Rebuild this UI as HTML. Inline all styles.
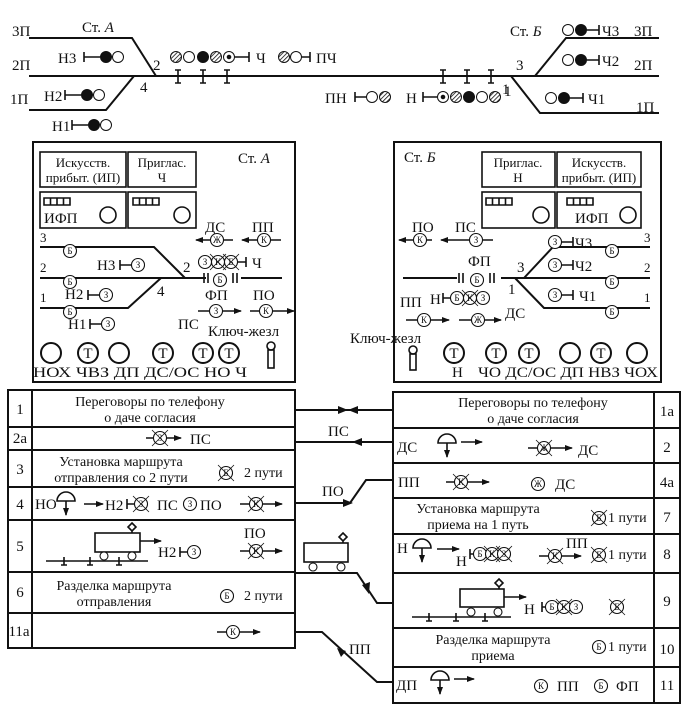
<!DOCTYPE html>
<html><head><meta charset="utf-8"><style>
html,body{margin:0;padding:0;background:#fff}
svg{display:block}
text{font-family:"Liberation Serif","Times New Roman",serif;font-size:15px;fill:#111}
.m{font-size:13px}
.tb{font-size:14px}
.s{font-size:9px;text-anchor:middle}
.c{fill:#fff;stroke:#111;stroke-width:1.1}
.x{stroke:#111;stroke-width:0.8}
.l{stroke:#111;stroke-width:2;fill:none}
.t{stroke:#111;stroke-width:1.6;fill:none}
.ctr{text-anchor:middle}
</style></head><body>
<svg width="688" height="715" viewBox="0 0 688 715" xmlns="http://www.w3.org/2000/svg">
<defs>
<pattern id="h" width="3" height="3" patternUnits="userSpaceOnUse" patternTransform="rotate(45)"><rect width="3" height="3" fill="#fff"/><line x1="0" y1="0" x2="0" y2="3" stroke="#111" stroke-width="1.6"/></pattern>
<marker id="a" markerWidth="8" markerHeight="6" refX="7" refY="3" orient="auto" markerUnits="userSpaceOnUse"><path d="M0,0 L8,3 L0,6 Z" fill="#111"/></marker>
</defs>

<text x="12" y="36">3П</text><text x="12" y="70">2П</text><text x="10" y="104">1П</text>
<text x="82" y="32">Ст. <tspan font-style="italic">А</tspan></text>
<path class="l" d="M29 38 H132 L156 76"/>
<path class="l" d="M29 76 H659"/>
<path class="l" d="M29 110 H106 L134 76"/>
<path class="l" d="M535 76 L566 38 H659"/>
<path class="l" d="M511 76 L540 113 H659"/>
<text x="153" y="70">2</text><text x="140" y="92">4</text>
<text x="516" y="70">3</text><text x="504" y="96">1</text>
<g class="t"><path d="M178 70V83M175 70h6M175 83h6M203 70V83M200 70h6M200 83h6M227 70V83M224 70h6M224 83h6"/>
<path d="M443 70V83M440 70h6M440 83h6M467 70V83M464 70h6M464 83h6M491 70V83M488 70h6M488 83h6"/></g>
<g stroke="#111" stroke-width="1">
<circle cx="176" cy="57" r="5.5" fill="url(#h)"/><circle cx="189" cy="57" r="5.5" fill="#fff"/><circle cx="203" cy="57" r="5.5" fill="#111"/><circle cx="216" cy="57" r="5.5" fill="url(#h)"/><circle cx="229" cy="57" r="5.5" fill="#fff"/><circle cx="229" cy="57" r="1.8" fill="#111"/>
<circle cx="284" cy="57" r="5.5" fill="url(#h)"/><circle cx="296" cy="57" r="5.5" fill="#fff"/>
<circle cx="106" cy="57" r="5.5" fill="#111"/><circle cx="118" cy="57" r="5.5" fill="#fff"/>
<circle cx="87" cy="95" r="5.5" fill="#111"/><circle cx="99" cy="95" r="5.5" fill="#fff"/>
<circle cx="94" cy="125" r="5.5" fill="#111"/><circle cx="106" cy="125" r="5.5" fill="#fff"/>
<circle cx="568" cy="30" r="5.5" fill="#fff"/><circle cx="581" cy="30" r="5.5" fill="#111"/>
<circle cx="568" cy="60" r="5.5" fill="#fff"/><circle cx="581" cy="60" r="5.5" fill="#111"/>
<circle cx="551" cy="98" r="5.5" fill="#fff"/><circle cx="564" cy="98" r="5.5" fill="#111"/>
<circle cx="372" cy="97" r="5.5" fill="#fff"/><circle cx="385" cy="97" r="5.5" fill="url(#h)"/>
<circle cx="443" cy="97" r="5.5" fill="#fff"/><circle cx="443" cy="97" r="1.8" fill="#111"/><circle cx="456" cy="97" r="5.5" fill="url(#h)"/><circle cx="469" cy="97" r="5.5" fill="#111"/><circle cx="482" cy="97" r="5.5" fill="#fff"/><circle cx="495" cy="97" r="5.5" fill="url(#h)"/>
</g>
<g class="t">
<path d="M235 57H249M249 52V62"/><path d="M302 57H310M310 52V62"/>
<path d="M84 57H100M84 52V62"/><path d="M65 95H81M65 90V100"/><path d="M72 125H88M72 120V130"/>
<path d="M587 30H599M599 25V35"/><path d="M587 60H599M599 55V65"/><path d="M570 98H583M583 93V103"/>
<path d="M355 97H366M355 92V102"/><path d="M423 97H437M423 92V102"/>
</g>
<text x="256" y="63">Ч</text><text x="316" y="63">ПЧ</text>
<text x="58" y="63">Н3</text><text x="44" y="101">Н2</text><text x="52" y="131">Н1</text>
<text x="510" y="36">Ст. <tspan font-style="italic">Б</tspan></text>
<text x="602" y="36">Ч3</text><text x="634" y="36">3П</text>
<text x="602" y="66">Ч2</text><text x="634" y="70">2П</text>
<text x="588" y="104">Ч1</text><text x="636" y="112">1П</text>
<text x="325" y="103">ПН</text><text x="406" y="103">Н</text><text x="502" y="94">1</text>

<rect x="33" y="142" width="262" height="240" fill="none" stroke="#111" stroke-width="2"/>
<text x="238" y="163">Ст. <tspan font-style="italic">А</tspan></text>
<rect x="40" y="152" width="86" height="35" class="t"/><rect x="128" y="152" width="68" height="35" class="t"/>
<rect x="40" y="192" width="86" height="36" class="t"/><rect x="128" y="192" width="68" height="36" class="t"/>
<text x="83" y="167" class="m ctr">Искусств.</text><text x="83" y="182" class="m ctr">прибыт. (ИП)</text>
<text x="162" y="167" class="m ctr">Приглас.</text><text x="162" y="182" class="m ctr">Ч</text>
<path class="t" d="M44 198h26v7h-26zM50.5 198v7M57 198v7M63.5 198v7M133 198h26v7h-26zM139.5 198v7M146 198v7M152.5 198v7"/>
<text x="44" y="223" font-size="16">ИФП</text>
<circle cx="108" cy="215" r="8" class="t"/><circle cx="182" cy="215" r="8" class="t"/>
<path class="l" d="M40 247 H154 L185 278"/>
<path class="l" d="M40 278 H206 M241 278 H282"/>
<path class="l" d="M40 308 H128 L161 278"/>
<text x="40" y="242" class="m">3</text><text x="40" y="272" class="m">2</text><text x="40" y="302" class="m">1</text>
<circle cx="70" cy="251" r="6.5" class="c"/><text x="70" y="254" class="s">Б</text>
<circle cx="70" cy="282" r="6.5" class="c"/><text x="70" y="285" class="s">Б</text>
<circle cx="70" cy="312" r="6.5" class="c"/><text x="70" y="315" class="s">Б</text>
<text x="97" y="270">Н3</text><path class="t" d="M120 265h12M120 260v10"/><circle cx="138" cy="265" r="6.5" class="c"/><text x="138" y="268" class="s">З</text>
<text x="65" y="299">Н2</text><path class="t" d="M88 295h12M88 290v10"/><circle cx="106" cy="295" r="6.5" class="c"/><text x="106" y="298" class="s">З</text>
<text x="68" y="329">Н1</text><path class="t" d="M90 324h12M90 319v10"/><circle cx="108" cy="324" r="6.5" class="c"/><text x="108" y="327" class="s">З</text>
<text x="183" y="272">2</text><text x="157" y="296">4</text>
<text x="205" y="232">ДС</text><text x="252" y="232">ПП</text>
<path class="t" d="M233 240H196" marker-end="url(#a)"/><circle cx="217" cy="240" r="6.5" class="c"/><text x="217" y="243" class="s">Ж</text>
<path class="t" d="M281 240H242" marker-end="url(#a)"/><circle cx="264" cy="240" r="6.5" class="c"/><text x="264" y="243" class="s">К</text>
<circle cx="205" cy="262" r="6.5" class="c"/><text x="205" y="265" class="s">З</text>
<circle cx="218" cy="262" r="6.5" class="c"/><text x="218" y="265" class="s">К</text>
<circle cx="231" cy="262" r="6.5" class="c"/><text x="231" y="265" class="s">Б</text>
<path class="x" d="M210 254l16 16M226 254l-16 16M223 254l16 16M239 254l-16 16"/>
<path class="t" d="M237 262h9M246 257v10"/><text x="252" y="268">Ч</text>
<path class="t" d="M204 273v10M208 273v10M233 273v10M237 273v10"/><circle cx="220" cy="280" r="6.5" class="c"/><text x="220" y="283" class="s">Б</text>
<text x="205" y="300">ФП</text><text x="253" y="300">ПО</text>
<path class="t" d="M198 311H241" marker-end="url(#a)"/><circle cx="216" cy="311" r="6.5" class="c"/><text x="216" y="314" class="s">З</text>
<path class="t" d="M250 311H294" marker-end="url(#a)"/><circle cx="266" cy="311" r="6.5" class="c"/><text x="266" y="314" class="s">К</text>
<text x="178" y="329">ПС</text><text x="208" y="336">Ключ-жезл</text>
<g class="l"><circle cx="51" cy="353" r="10"/><circle cx="88" cy="353" r="10"/><circle cx="119" cy="353" r="10"/><circle cx="163" cy="353" r="10"/><circle cx="203" cy="353" r="10"/><circle cx="229" cy="353" r="10"/></g>
<text x="88" y="358" class="ctr" font-size="13">Т</text><text x="163" y="358" class="ctr" font-size="13">Т</text><text x="203" y="358" class="ctr" font-size="13">Т</text><text x="229" y="358" class="ctr" font-size="13">Т</text>
<circle cx="271" cy="346" r="4" class="t"/><rect x="268" y="350" width="6" height="18" class="t"/>
<text x="33" y="377" textLength="214" lengthAdjust="spacingAndGlyphs">НОХ ЧВЗ ДП ДС/ОС НО Ч</text>

<rect x="394" y="142" width="267" height="240" fill="none" stroke="#111" stroke-width="2"/>
<text x="404" y="162">Ст. <tspan font-style="italic">Б</tspan></text>
<rect x="482" y="152" width="73" height="35" class="t"/><rect x="557" y="152" width="84" height="35" class="t"/>
<rect x="482" y="192" width="73" height="36" class="t"/><rect x="557" y="192" width="84" height="36" class="t"/>
<text x="518" y="167" class="m ctr">Приглас.</text><text x="518" y="182" class="m ctr">Н</text>
<text x="599" y="167" class="m ctr">Искусств.</text><text x="599" y="182" class="m ctr">прибыт. (ИП)</text>
<path class="t" d="M486 198h26v7h-26zM492.5 198v7M499 198v7M505.5 198v7M567 198h26v7h-26zM573.5 198v7M580 198v7M586.5 198v7"/>
<text x="575" y="223" font-size="16">ИФП</text>
<circle cx="541" cy="215" r="8" class="t"/><circle cx="628" cy="215" r="8" class="t"/>
<text x="412" y="232">ПО</text><text x="455" y="232">ПС</text>
<path class="t" d="M432 240H399" marker-end="url(#a)"/><circle cx="420" cy="240" r="6.5" class="c"/><text x="420" y="243" class="s">К</text>
<path class="t" d="M493 240H441" marker-end="url(#a)"/><circle cx="476" cy="240" r="6.5" class="c"/><text x="476" y="243" class="s">З</text>
<path class="l" d="M403 278H457M501 278H650"/>
<path class="l" d="M524 278L553 247H650"/>
<path class="l" d="M515 278L544 308H650"/>
<text x="644" y="242" class="m">3</text><text x="644" y="272" class="m">2</text><text x="644" y="302" class="m">1</text>
<circle cx="612" cy="251" r="6.5" class="c"/><text x="612" y="254" class="s">Б</text>
<circle cx="612" cy="282" r="6.5" class="c"/><text x="612" y="285" class="s">Б</text>
<circle cx="612" cy="312" r="6.5" class="c"/><text x="612" y="315" class="s">Б</text>
<circle cx="555" cy="242" r="6.5" class="c"/><text x="555" y="245" class="s">З</text><path class="t" d="M561 242h12M573 237v10"/><text x="575" y="248">Ч3</text>
<circle cx="555" cy="265" r="6.5" class="c"/><text x="555" y="268" class="s">З</text><path class="t" d="M561 265h12M573 260v10"/><text x="575" y="271">Ч2</text>
<circle cx="555" cy="295" r="6.5" class="c"/><text x="555" y="298" class="s">З</text><path class="t" d="M561 295h12M573 290v10"/><text x="579" y="301">Ч1</text>
<text x="517" y="272">3</text><text x="508" y="294">1</text>
<text x="468" y="266">ФП</text>
<path class="t" d="M459 273v10M463 273v10M490 273v10M494 273v10"/><circle cx="477" cy="280" r="6.5" class="c"/><text x="477" y="283" class="s">Б</text>
<text x="400" y="307">ПП</text><text x="430" y="304">Н</text>
<path class="t" d="M443 298h8M443 293v10"/>
<circle cx="457" cy="298" r="6.5" class="c"/><text x="457" y="301" class="s">Б</text>
<circle cx="470" cy="298" r="6.5" class="c"/><text x="470" y="301" class="s">К</text>
<circle cx="483" cy="298" r="6.5" class="c"/><text x="483" y="301" class="s">З</text>
<path class="x" d="M462 290l16 16M478 290l-16 16"/>
<path class="t" d="M406 320H449" marker-end="url(#a)"/><circle cx="424" cy="320" r="6.5" class="c"/><text x="424" y="323" class="s">К</text>
<path class="t" d="M459 320H501" marker-end="url(#a)"/><circle cx="478" cy="320" r="6.5" class="c"/><text x="478" y="323" class="s">Ж</text>
<text x="505" y="318">ДС</text>
<text x="350" y="343">Ключ-жезл</text>
<circle cx="413" cy="350" r="4" class="t"/><rect x="410" y="354" width="6" height="16" class="t"/>
<g class="l"><circle cx="454" cy="353" r="10"/><circle cx="496" cy="353" r="10"/><circle cx="529" cy="353" r="10"/><circle cx="570" cy="353" r="10"/><circle cx="601" cy="353" r="10"/><circle cx="637" cy="353" r="10"/></g>
<text x="454" y="358" class="ctr" font-size="13">Т</text><text x="496" y="358" class="ctr" font-size="13">Т</text><text x="529" y="358" class="ctr" font-size="13">Т</text><text x="601" y="358" class="ctr" font-size="13">Т</text>
<text x="452" y="377">Н</text>
<text x="478" y="377" textLength="180" lengthAdjust="spacingAndGlyphs">ЧО ДС/ОС ДП НВЗ ЧОХ</text>

<g class="l">
<rect x="8" y="390" width="287" height="258"/>
<path d="M32 390V648M8 427H295M8 450H295M8 487H295M8 520H295M8 572H295M8 613H295"/>
</g>
<text x="20" y="414" class="ctr">1</text><text x="20" y="443" class="ctr">2а</text><text x="20" y="474" class="ctr">3</text><text x="20" y="509" class="ctr">4</text><text x="20" y="551" class="ctr">5</text><text x="20" y="597" class="ctr">6</text><text x="19" y="636" class="ctr">11а</text>
<text x="150" y="406" class="tb ctr">Переговоры по телефону</text><text x="150" y="422" class="tb ctr">о даче согласия</text>
<path class="t" d="M146 438H181" marker-end="url(#a)"/><circle cx="160" cy="438" r="6.5" class="c"/><text x="160" y="441" class="s">З</text><path class="x" d="M152 430l16 16M168 430l-16 16"/><text x="190" y="444" font-size="17">ПС</text>
<text x="121" y="466" class="tb ctr">Установка маршрута</text><text x="121" y="482" class="tb ctr">отправления со 2 пути</text>
<circle cx="226" cy="473" r="6.5" class="c"/><text x="226" y="476" class="s">Б</text><path class="x" d="M218 465l16 16M234 465l-16 16"/><text x="244" y="477" class="tb">2 пути</text>
<text x="35" y="509" font-size="16">НО</text>
<path d="M57 501a9 9 0 0 1 18 0z" class="t"/><path class="t" d="M66 501v14" marker-end="url(#a)"/>
<path class="t" d="M84 504H103" marker-end="url(#a)"/>
<text x="105" y="510" font-size="16">Н2</text><path class="t" d="M127 504h8M127 499v10"/><circle cx="141" cy="504" r="6.5" class="c"/><text x="141" y="507" class="s">З</text><path class="x" d="M133 496l16 16M149 496l-16 16"/>
<text x="157" y="510" font-size="16">ПС</text><circle cx="190" cy="504" r="6.5" class="c"/><text x="190" y="507" class="s">З</text><text x="200" y="510" font-size="16">ПО</text>
<path class="t" d="M240 504H282" marker-end="url(#a)"/><circle cx="256" cy="504" r="6.5" class="c"/><text x="256" y="507" class="s">К</text><path class="x" d="M248 496l16 16M264 496l-16 16"/>
<path class="t" d="M46 561H148M64 557v8M61 565h6M90 557v8M87 565h6M119 557v8M116 565h6"/>
<rect x="95" y="533" width="45" height="19" class="t"/><circle cx="104" cy="556" r="4" class="c" stroke-width="1.5"/><circle cx="132" cy="556" r="4" class="c" stroke-width="1.5"/>
<path class="t" d="M132 533v-2M132 523l4 4-4 4-4-4z"/>
<path class="t" d="M140 541H161" marker-end="url(#a)"/>
<text x="158" y="557" font-size="16">Н2</text><path class="t" d="M180 552h8M180 547v10"/><circle cx="194" cy="552" r="6.5" class="c"/><text x="194" y="555" class="s">З</text>
<text x="244" y="538" font-size="16">ПО</text>
<path class="t" d="M240 551H282" marker-end="url(#a)"/><circle cx="256" cy="551" r="6.5" class="c"/><text x="256" y="554" class="s">К</text><path class="x" d="M248 543l16 16M264 543l-16 16"/>
<text x="114" y="590" class="tb ctr">Разделка маршрута</text><text x="114" y="606" class="tb ctr">отправления</text>
<circle cx="227" cy="596" r="6.5" class="c"/><text x="227" y="599" class="s">Б</text><text x="244" y="600" class="tb">2 пути</text>
<path class="t" d="M217 632H260" marker-end="url(#a)"/><circle cx="233" cy="632" r="6.5" class="c"/><text x="233" y="635" class="s">К</text>

<g class="l">
<rect x="393" y="392" width="287" height="311"/>
<path d="M654 392V703M393 428H680M393 463H680M393 498H680M393 534H680M393 573H680M393 628H680M393 667H680"/>
</g>
<text x="533" y="407" class="tb ctr">Переговоры по телефону</text><text x="533" y="423" class="tb ctr">о даче согласия</text>
<text x="667" y="416" class="ctr">1а</text><text x="667" y="452" class="ctr">2</text><text x="667" y="487" class="ctr">4а</text><text x="667" y="522" class="ctr">7</text><text x="667" y="559" class="ctr">8</text><text x="667" y="606" class="ctr">9</text><text x="667" y="654" class="ctr">10</text><text x="667" y="690" class="ctr">11</text>
<text x="397" y="452" font-size="16">ДС</text>
<path d="M438 443a9 9 0 0 1 18 0z" class="t"/><path class="t" d="M447 443v14" marker-end="url(#a)"/>
<path class="t" d="M461 442H482" marker-end="url(#a)"/>
<path class="t" d="M528 448H572" marker-end="url(#a)"/><circle cx="544" cy="448" r="6.5" class="c"/><text x="544" y="451" class="s">Ж</text><path class="x" d="M536 440l16 16M552 440l-16 16"/>
<text x="578" y="455" font-size="16">ДС</text>
<text x="398" y="487" font-size="16">ПП</text>
<path class="t" d="M446 482H489" marker-end="url(#a)"/><circle cx="461" cy="482" r="6.5" class="c"/><text x="461" y="485" class="s">К</text><path class="x" d="M453 474l16 16M469 474l-16 16"/>
<circle cx="538" cy="484" r="6.5" class="c"/><text x="538" y="487" class="s">Ж</text><text x="555" y="489" font-size="16">ДС</text>
<text x="478" y="513" class="tb ctr">Установка маршрута</text><text x="478" y="529" class="tb ctr">приема на 1 путь</text>
<circle cx="599" cy="518" r="6.5" class="c"/><text x="599" y="521" class="s">Б</text><path class="x" d="M591 510l16 16M607 510l-16 16"/><text x="608" y="522" class="tb">1 пути</text>
<text x="397" y="553" font-size="16">Н</text>
<path d="M413 548a9 9 0 0 1 18 0z" class="t"/><path class="t" d="M422 548v14" marker-end="url(#a)"/>
<path class="t" d="M437 549H459" marker-end="url(#a)"/>
<text x="456" y="566" font-size="16">Н</text><path class="t" d="M470 554h4M470 549v10"/>
<circle cx="480" cy="554" r="6.5" class="c"/><text x="480" y="557" class="s">Б</text>
<circle cx="492" cy="554" r="6.5" class="c"/><text x="492" y="557" class="s">К</text>
<circle cx="504" cy="554" r="6.5" class="c"/><text x="504" y="557" class="s">З</text>
<path class="x" d="M484 546l16 16M500 546l-16 16M496 546l16 16M512 546l-16 16"/>
<path class="t" d="M539 556H581" marker-end="url(#a)"/><circle cx="555" cy="556" r="6.5" class="c"/><text x="555" y="559" class="s">К</text><path class="x" d="M547 548l16 16M563 548l-16 16"/>
<text x="566" y="548" font-size="16">ПП</text>
<circle cx="599" cy="555" r="6.5" class="c"/><text x="599" y="558" class="s">Б</text><path class="x" d="M591 547l16 16M607 547l-16 16"/><text x="608" y="559" class="tb">1 пути</text>
<path class="t" d="M412 617H511M429 613v8M426 621h6M456 613v8M453 621h6M485 613v8M482 621h6"/>
<rect x="460" y="589" width="44" height="18" class="t"/><circle cx="471" cy="612" r="4" class="c" stroke-width="1.5"/><circle cx="498" cy="612" r="4" class="c" stroke-width="1.5"/>
<path class="t" d="M499 589v-2M499 579l4 4-4 4-4-4z"/>
<path class="t" d="M504 597H526" marker-end="url(#a)"/>
<text x="524" y="614" font-size="16">Н</text><path class="t" d="M542 607h4M542 602v10"/>
<circle cx="552" cy="607" r="6.5" class="c"/><text x="552" y="610" class="s">Б</text>
<circle cx="564" cy="607" r="6.5" class="c"/><text x="564" y="610" class="s">К</text>
<circle cx="576" cy="607" r="6.5" class="c"/><text x="576" y="610" class="s">З</text>
<path class="x" d="M556 599l16 16M572 599l-16 16"/>
<circle cx="617" cy="607" r="6.5" class="c"/><text x="617" y="610" class="s">Б</text><path class="x" d="M609 599l16 16M625 599l-16 16"/>
<text x="493" y="644" class="tb ctr">Разделка маршрута</text><text x="493" y="660" class="tb ctr">приема</text>
<circle cx="599" cy="647" r="6.5" class="c"/><text x="599" y="650" class="s">Б</text><text x="608" y="651" class="tb">1 пути</text>
<text x="396" y="690" font-size="16">ДП</text>
<path d="M431 680a9 9 0 0 1 18 0z" class="t"/><path class="t" d="M440 680v14" marker-end="url(#a)"/>
<path class="t" d="M454 679H474" marker-end="url(#a)"/>
<circle cx="541" cy="686" r="6.5" class="c"/><text x="541" y="689" class="s">К</text><text x="557" y="691" font-size="16">ПП</text>
<circle cx="601" cy="686" r="6.5" class="c"/><text x="601" y="689" class="s">Б</text><text x="616" y="691" font-size="16">ФП</text>

<path class="l" d="M295 410H393"/>
<path d="M338 406L348 410L338 414Z M358 406L348 410L358 414Z" fill="#111"/>
<path class="l" d="M393 442H295"/><path d="M362 438L352 442L362 446Z" fill="#111"/>
<text x="328" y="436" font-size="17">ПС</text>
<path class="l" d="M295 503H350L366 480H393"/><path d="M343 499L353 503L343 507Z" fill="#111"/>
<text x="322" y="496" font-size="17">ПО</text>
<rect x="304" y="543" width="44" height="19" class="t"/><circle cx="313" cy="567" r="4" class="c" stroke-width="1.5"/><circle cx="341" cy="567" r="4" class="c" stroke-width="1.5"/>
<path class="t" d="M343 543v-2M343 533l4 4-4 4-4-4z"/>
<path class="l" d="M295 573H357L377 603H393"/><path d="M362 585L369 594L370 582Z" fill="#111"/>
<path class="l" d="M295 632H322L377 682H393"/><path d="M346 651L337 648L341 657Z" fill="#111"/>
<text x="349" y="654" font-size="17">ПП</text>
</svg>
</body></html>
